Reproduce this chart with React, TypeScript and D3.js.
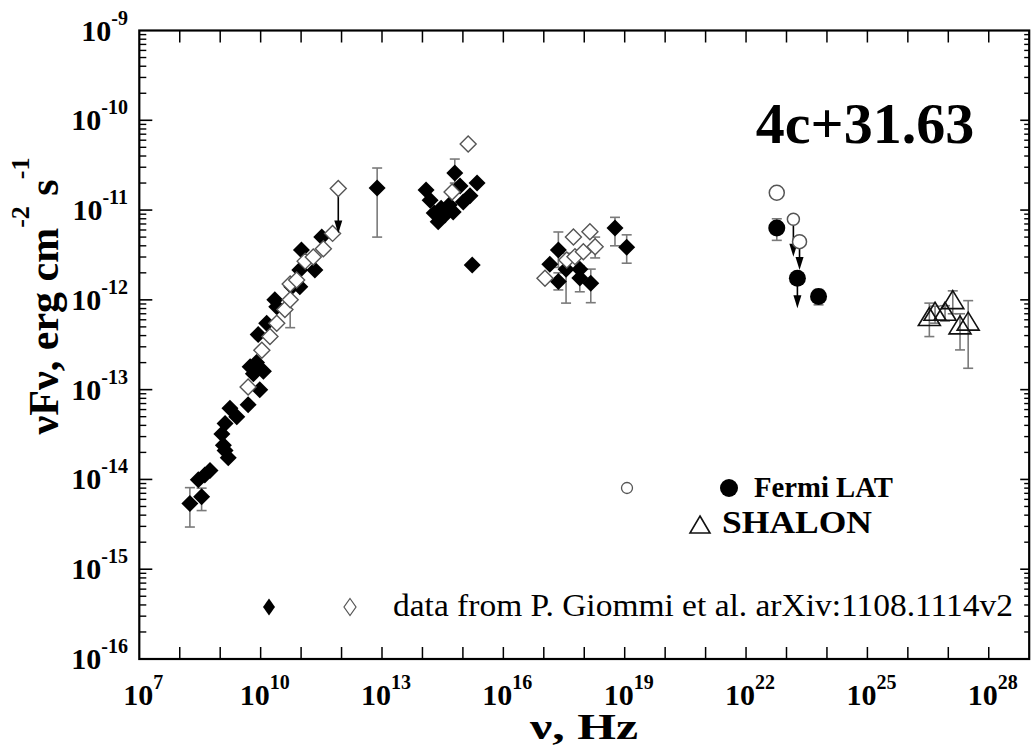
import React from "react";
import * as d3 from "d3";

// Each point: [nu (Hz), nuFnu (erg cm^-2 s^-1), errLow?, errHigh?]
type Pt = [number, number, (number | null)?, (number | null)?];

// Giommi et al. filled diamonds
const giommiFilled: Pt[] = [
  [1.78e8, 5.4e-15, 2.95e-15, 8.1e-15],
  [3.47e8, 6.4e-15, 4.5e-15, 8.0e-15],
  [2.88e8, 9.9e-15],
  [4.17e8, 1.12e-14],
  [5.6e8, 1.26e-14],
  [1.2e9, 2.4e-14],
  [1.32e9, 2.1e-14],
  [1.58e9, 1.74e-14],
  [1.1e9, 3.2e-14],
  [1.32e9, 4.2e-14],
  [1.74e9, 6.2e-14],
  [2.57e9, 5.0e-14],
  [4.9e9, 6.8e-14],
  [5.5e9, 1.8e-13],
  [7.9e9, 2.0e-13],
  [6.6e9, 1.5e-13],
  [9.5e9, 1.0e-13],
  [1.17e10, 1.6e-13],
  [8.7e9, 4.1e-13],
  [1.41e10, 5.5e-13],
  [2.24e10, 1.0e-12],
  [2.5e10, 8.4e-13],
  [5.9e10, 1.4e-12],
  [9.3e10, 1.4e-12],
  [9.3e10, 2.15e-12],
  [2.19e11, 2.15e-12],
  [1.02e11, 3.6e-12],
  [3.24e11, 5.0e-12],
  // IR / optical
  [7.59e12, 1.76e-11, 5.0e-12, 2.94e-11],
  [1.23e14, 1.67e-11],
  [1.55e14, 1.29e-11],
  [1.95e14, 9.3e-12],
  [2.45e14, 7.4e-12],
  [2.9e14, 1.05e-11],
  [3.6e14, 8.8e-12],
  [4.6e14, 1.14e-11],
  [5.75e14, 9.5e-12],
  [6.3e14, 2.59e-11, 2.0e-11, 3.7e-11],
  [8.5e14, 1.85e-11],
  [1.02e15, 1.23e-11],
  [1.5e15, 1.44e-11],
  [2.24e15, 2.0e-11],
  [1.7e15, 2.45e-12],
  // X-ray
  [2.29e17, 3.6e-12, 2.3e-12, 5.7e-12],
  [1.41e17, 2.5e-12],
  [2.29e17, 1.6e-12, 1.29e-12, 2.0e-12],
  [3.55e17, 2.19e-12, 9.2e-13, 3.3e-12],
  [7.76e17, 2.19e-12],
  [7.76e17, 1.75e-12, 1.23e-12, 2.4e-12],
  [1.45e18, 1.53e-12, 9.3e-13, 2.2e-12],
  [5.75e18, 6.3e-12, 4.0e-12, 8.3e-12],
  [1.12e19, 3.85e-12, 2.56e-12, 5.3e-12],
];

// Giommi et al. open diamonds
const giommiOpen: Pt[] = [
  [4.9e9, 1.07e-13],
  [1.07e10, 2.75e-13],
  [1.7e10, 3.9e-13],
  [2.5e10, 5.5e-13],
  [3.98e10, 7.8e-13],
  [5.37e10, 1.0e-12, 4.9e-13, 1.4e-12],
  [5.37e10, 1.5e-12],
  [7.76e10, 1.66e-12],
  [1.26e11, 2.7e-12],
  [2.0e11, 3.0e-12],
  [3.55e11, 3.7e-12],
  [6.0e11, 5.5e-12],
  [5.4e14, 1.59e-11],
  [1.35e15, 5.45e-11],
  [1.07e17, 1.74e-12],
  [3.7e17, 2.78e-12],
  [5.9e17, 3.03e-12],
  [5.4e17, 5.0e-12],
  [9.5e17, 3.44e-12],
  [1.38e18, 5.75e-12],
  [1.86e18, 3.9e-12, 2.93e-12, 5.0e-12],
];

// Giommi open diamond upper limit: [nu, value, arrow tip]
const giommiOpenUL: [number, number, number][] = [[8.3e11, 1.74e-11, 5.5e-12]];

// Fermi LAT
const fermiOpen: [number, number, number, number | null][] = [
  // [nu, flux, radius(px), arrow tip or null]
  [5.75e22, 1.56e-11, 7.5, null],
  [1.48e23, 7.9e-12, 6, 3.03e-12],
  [2.1e23, 4.45e-12, 7, 2.15e-12],
];
const fermiFilled: [number, number, number | null, number | null, number | null][] = [
  // [nu, flux, errLow, errHigh, arrow tip]
  [5.75e22, 6.3e-12, 4.6e-12, 8.0e-12, null],
  [1.86e23, 1.74e-12, null, null, 8.05e-13],
  [6.2e23, 1.09e-12, 8.8e-13, 1.3e-12, null],
];

// SHALON
const shalon: Pt[] = [
  [3.4e26, 6.2e-13, 3.9e-13, 9.2e-13],
  [4.7e26, 7.1e-13, 5.5e-13, 8.5e-13],
  [8.3e26, 7.1e-13, 5.8e-13, 8.6e-13],
  [1.29e27, 9.55e-13, 7.0e-13, 1.26e-12],
  [1.95e27, 5.0e-13, 2.77e-13, 7.0e-13],
  [3.1e27, 5.5e-13, 1.73e-13, 9.8e-13],
];

const xLabelExps = [7, 10, 13, 16, 19, 22, 25, 28];
const yLabelExps = [-16, -15, -14, -13, -12, -11, -10, -9];

const FONT = "'Liberation Serif', 'Times New Roman', serif";
const ERR = "#7a7a7a";

const diamond = (cx: number, cy: number, rx: number, ry: number) =>
  `M${cx},${cy - ry}L${cx + rx},${cy}L${cx},${cy + ry}L${cx - rx},${cy}Z`;

const triangle = (cx: number, cy: number) =>
  `M${cx},${cy - 11}L${cx + 11},${cy + 7}L${cx - 11},${cy + 7}Z`;

export default function App() {
  const W = 1034;
  const H = 748;
  const L = 139.3, R = 1029.2, T = 30.5, B = 659;
  const x = d3.scaleLog().domain([1e7, 1e29]).range([L, R]);
  const y = d3.scaleLog().domain([1e-16, 1e-9]).range([B, T]);

  const xDecades = d3.range(8, 29).map((e) => Math.pow(10, e));
  const yMajors = d3.range(-15, -9).map((e) => Math.pow(10, e));
  const yMinors: number[] = [];
  for (let e = -16; e < -9; e++) for (let k = 2; k <= 9; k++) yMinors.push(k * Math.pow(10, e));

  const errBar = (px: number, lo: number | null | undefined, hi: number | null | undefined, key: string) => {
    const parts: JSX.Element[] = [];
    const y1 = lo != null ? y(lo) : null;
    const y2 = hi != null ? y(hi) : null;
    if (y1 != null && y2 != null)
      parts.push(<line key={key + "v"} x1={px} x2={px} y1={y1} y2={y2} stroke={ERR} strokeWidth={1.6} />);
    if (y1 != null) parts.push(<line key={key + "l"} x1={px - 5} x2={px + 5} y1={y1} y2={y1} stroke={ERR} strokeWidth={1.6} />);
    if (y2 != null) parts.push(<line key={key + "h"} x1={px - 5} x2={px + 5} y1={y2} y2={y2} stroke={ERR} strokeWidth={1.6} />);
    return parts;
  };

  const arrow = (px: number, y0: number, tip: number, key: string) => {
    const yt = y(tip);
    return (
      <g key={key}>
        <line x1={px} x2={px} y1={y0} y2={yt - 10} stroke="#000" strokeWidth={1.6} />
        <path d={`M${px},${yt}L${px - 4},${yt - 13}L${px + 4},${yt - 13}Z`} fill="#000" />
      </g>
    );
  };

  return (
    <svg width={W} height={H} style={{ position: "absolute", left: 0, top: 0, background: "#fff" }} fontFamily={FONT}>
      <rect x={0} y={0} width={W} height={H} fill="#fff" />
      {/* ticks */}
      {xDecades.map((v, i) => (
        <g key={"xt" + i}>
          <line x1={x(v)} x2={x(v)} y1={B} y2={B - 12} stroke="#000" strokeWidth={1.5} />
          <line x1={x(v)} x2={x(v)} y1={T} y2={T + 12} stroke="#000" strokeWidth={1.5} />
        </g>
      ))}
      {yMajors.map((v, i) => (
        <g key={"ym" + i}>
          <line x1={L} x2={L + 13} y1={y(v)} y2={y(v)} stroke="#000" strokeWidth={1.6} />
          <line x1={R} x2={R - 9} y1={y(v)} y2={y(v)} stroke="#000" strokeWidth={1.6} />
        </g>
      ))}
      {yMinors.map((v, i) => (
        <g key={"yn" + i}>
          <line x1={L} x2={L + 7} y1={y(v)} y2={y(v)} stroke="#000" strokeWidth={1.4} />
          <line x1={R} x2={R - 5} y1={y(v)} y2={y(v)} stroke="#000" strokeWidth={1.4} />
        </g>
      ))}
      <rect x={L} y={T} width={R - L} height={B - T} fill="none" stroke="#000" strokeWidth={2.2} />

      {/* tick labels */}
      {yLabelExps.map((e) => (
        <text key={"yl" + e} x={128} y={y(Math.pow(10, e)) + 10} textAnchor="end" fontSize={30} fontWeight="bold">
          10<tspan fontSize={20} dy={-16}>{String(e)}</tspan>
        </text>
      ))}
      {xLabelExps.map((e) => (
        <text key={"xl" + e} x={x(Math.pow(10, e)) + 4} y={705} textAnchor="middle" fontSize={30} fontWeight="bold">
          10<tspan fontSize={20} dy={-16}>{String(e)}</tspan>
        </text>
      ))}

      {/* axis titles */}
      <text x={584} y={739} textAnchor="middle" fontSize={36} fontWeight="bold" textLength={108} lengthAdjust="spacingAndGlyphs">ν, Hz</text>
      <text transform="translate(58,296) rotate(-90)" textAnchor="middle" fontSize={42} fontWeight="bold">
        νFν, erg cm<tspan fontSize={26} dy={-29}>-2</tspan>
        <tspan dy={29}> s</tspan>
        <tspan fontSize={26} dy={-29}>-1</tspan>
      </text>

      {/* source name */}
      <text x={865} y={143} textAnchor="middle" fontSize={58} fontWeight="bold">4c+31.63</text>

      {/* error bars */}
      {giommiFilled.map((d, i) => errBar(x(d[0]), d[2], d[3], "ef" + i))}
      {giommiOpen.map((d, i) => errBar(x(d[0]), d[2], d[3], "eo" + i))}
      {fermiFilled.map((d, i) => errBar(x(d[0]), d[2], d[3], "efl" + i))}
      {shalon.map((d, i) => errBar(x(d[0]), d[2], d[3], "es" + i))}

      {/* Giommi markers */}
      {giommiFilled.map((d, i) => (
        <path key={"gf" + i} d={diamond(x(d[0]), y(d[1]), 8.5, 8.5)} fill="#000" />
      ))}
      {giommiOpen.map((d, i) => (
        <path key={"go" + i} d={diamond(x(d[0]), y(d[1]), 8, 8)} fill="#fff" stroke="#555" strokeWidth={1.4} />
      ))}
      {giommiOpenUL.map((d, i) => (
        <g key={"gu" + i}>
          {arrow(x(d[0]), y(d[1]), d[2], "gua" + i)}
          <path d={diamond(x(d[0]), y(d[1]), 8, 8)} fill="#fff" stroke="#555" strokeWidth={1.4} />
        </g>
      ))}

      {/* Fermi */}
      {fermiOpen.map((d, i) => (
        <g key={"fo" + i}>
          {d[3] != null ? arrow(x(d[0]), y(d[1]) + d[2], d[3], "foa" + i) : null}
          <circle cx={x(d[0])} cy={y(d[1])} r={d[2]} fill="#fff" stroke="#555" strokeWidth={1.5} />
        </g>
      ))}
      {fermiFilled.map((d, i) => (
        <g key={"ff" + i}>
          {d[4] != null ? arrow(x(d[0]), y(d[1]), d[4], "ffa" + i) : null}
          <circle cx={x(d[0])} cy={y(d[1])} r={8.5} fill="#000" />
        </g>
      ))}

      {/* SHALON */}
      {shalon.map((d, i) => (
        <path key={"sh" + i} d={triangle(x(d[0]), y(d[1]))} fill="none" stroke="#111" strokeWidth={1.6} />
      ))}

      {/* legend */}
      <circle cx={627} cy={488} r={5.5} fill="#fff" stroke="#555" strokeWidth={1.3} />
      <circle cx={729} cy={488} r={9} fill="#000" />
      <text x={754} y={497} fontSize={29} fontWeight="bold" textLength={139} lengthAdjust="spacingAndGlyphs">Fermi LAT</text>
      <path d={`M700,516L710,533L690,533Z`} fill="none" stroke="#111" strokeWidth={1.6} />
      <text x={722} y={533} fontSize={31} fontWeight="bold" textLength={150} lengthAdjust="spacingAndGlyphs">SHALON</text>
      <path d={diamond(269, 607, 6, 8.5)} fill="#000" />
      <path d={diamond(350, 607, 6, 8.5)} fill="#fff" stroke="#555" strokeWidth={1.2} />
      <text x={393} y={616} fontSize={32} textLength={620} lengthAdjust="spacingAndGlyphs">
        data from P. Giommi et al. arXiv:1108.1114v2
      </text>
    </svg>
  );
}
